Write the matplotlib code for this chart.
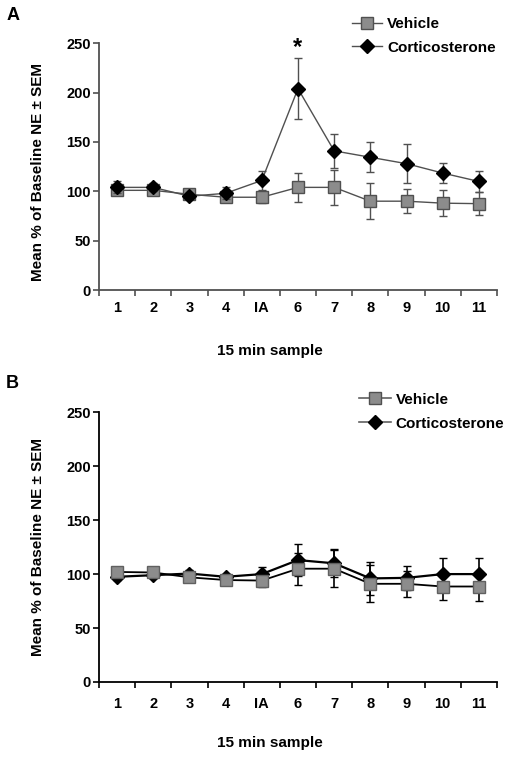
import numpy as np
import matplotlib
matplotlib.use("Agg")
import matplotlib.pyplot as plt
from matplotlib.lines import Line2D

plt.rcParams['font.family'] = ['Liberation Sans', 'DejaVu Sans']
plt.rcParams['font.weight'] = 'bold'

samples = ["1", "2", "3", "4", "IA", "6", "7", "8", "9", "10", "11"]

# panel A
veh_a = [101, 101, 97, 94, 94, 104, 104, 90, 90, 88, 87.5]
veh_a_err = [4, 3, 3, 5, 6, 14.5, 18, 18, 12, 13, 12]
cort_a = [104, 104, 95, 98, 111, 204, 141, 134.5, 128, 118.5, 110]
cort_a_err = [6, 4, 3, 6, 10, 31, 17, 15, 20, 10, 11]

# panel B
veh_b = [102, 101.5, 97, 94.5, 94, 105, 105, 91, 91, 88.5, 88.5]
veh_b_err = [3, 3, 3, 3, 6, 15, 17, 17, 12, 12.5, 13]
cort_b = [97.5, 99, 100.5, 97.5, 100, 113, 110, 96, 96.5, 100, 100]
cort_b_err = [3, 3, 3, 3, 7, 15, 13, 15, 11, 15, 15]

x = np.arange(len(samples))

fig = plt.figure(figsize=(5.15, 7.58), dpi=100)
axA = fig.add_axes([0.1922, 0.6174, 0.7728, 0.3255])
axB = fig.add_axes([0.1922, 0.1003, 0.7728, 0.3558])


def style_axis(ax, col, xpad, xlab_y, ylab_y):
    ax.set_xlim(-0.5, 10.5)
    ax.set_ylim(0, 250)
    ax.set_yticks([0, 50, 100, 150, 200, 250])
    ax.set_xticks(x)
    ax.set_xticklabels(samples)
    ax.set_xticks(np.arange(-0.5, 11, 1), minor=True)
    ax.tick_params(axis='x', which='major', length=0, pad=xpad, labelsize=10.5)
    ax.tick_params(axis='x', which='minor', length=4, width=1.2, color=col, direction='out')
    ax.tick_params(axis='y', length=4, width=1.2, color=col, pad=2, labelsize=10.5)
    for s in ['top', 'right']:
        ax.spines[s].set_visible(False)
    for s in ['left', 'bottom']:
        ax.spines[s].set_color(col)
        ax.spines[s].set_linewidth(1.3)
    ax.set_ylabel("Mean % of Baseline NE \u00b1 SEM", fontsize=11, fontweight='bold')
    ax.yaxis.set_label_coords(-0.135, ylab_y)
    ax.set_xlabel("15 min sample", fontsize=11, fontweight='bold')
    ax.xaxis.set_label_coords(0.43, xlab_y)


def legend_handles(line_col, lw):
    veh = Line2D([], [], color=line_col, lw=lw, marker='s', ms=9, mfc='#8c8c8c', mec='#505050')
    cort = Line2D([], [], color=line_col, lw=lw, marker='D', ms=7.5, mfc='black', mec='black')
    return [veh, cort]


# panel A
gA = '#505050'
axA.errorbar(x, veh_a, yerr=veh_a_err, color=gA, lw=1, elinewidth=1, capsize=3,
             marker='s', ms=9, mfc='#8c8c8c', mec='#505050', mew=1, zorder=2)
axA.errorbar(x, cort_a, yerr=cort_a_err, color=gA, lw=1, elinewidth=1, capsize=3,
             marker='D', ms=7.5, mfc='black', mec='black', zorder=3)
axA.text(5, 246, "*", ha='center', va='center', fontsize=17, fontweight='bold')
style_axis(axA, gA, 8, -0.22, 0.48)
axA.legend(legend_handles(gA, 1), ['Vehicle', 'Corticosterone'], loc='upper left',
           bbox_to_anchor=(0.683, 0.977), bbox_transform=fig.transFigure,
           frameon=False, fontsize=11, handlelength=2.0, handletextpad=0.3,
           labelspacing=0.6, borderpad=0, borderaxespad=0)

# panel B
axB.errorbar(x, cort_b, yerr=cort_b_err, color='black', lw=1.6, elinewidth=1.2, capsize=3,
             marker='D', ms=7.5, mfc='black', mec='black', zorder=2)
axB.errorbar(x, veh_b, yerr=veh_b_err, color='black', lw=1.3, elinewidth=1.2, capsize=3,
             marker='s', ms=9, mfc='#8c8c8c', mec='#606060', mew=1, zorder=3)
style_axis(axB, 'black', 11, -0.2, 0.5)
axB.legend(legend_handles('#606060', 1.2), ['Vehicle', 'Corticosterone'], loc='upper left',
           bbox_to_anchor=(0.697, 0.482), bbox_transform=fig.transFigure,
           frameon=False, fontsize=11, handlelength=2.1, handletextpad=0.3,
           labelspacing=0.65, borderpad=0, borderaxespad=0)

fig.text(0.012, 1 - 16 / 758, "A", fontsize=13, fontweight='bold', va='center')
fig.text(0.012, 1 - 383 / 758, "B", fontsize=13, fontweight='bold', va='center')

fig.savefig("out.png", dpi=100)
